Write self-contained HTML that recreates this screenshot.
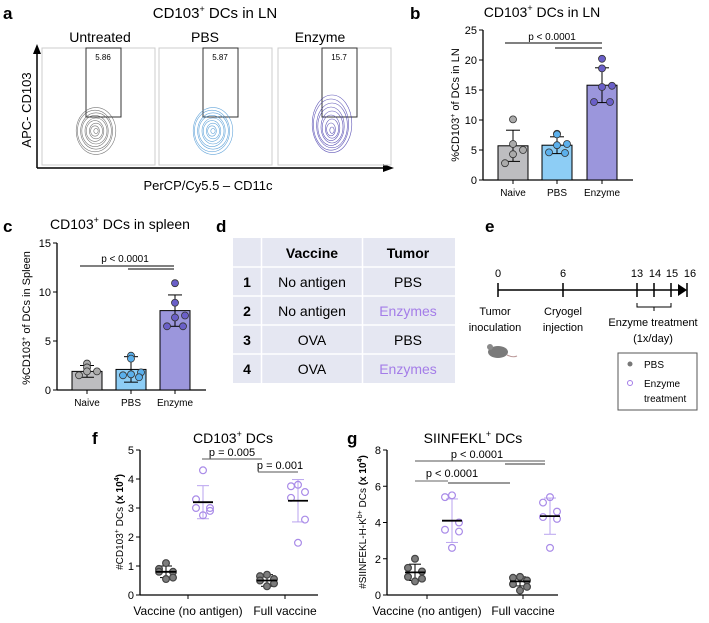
<!DOCTYPE html>
<html><head><meta charset="utf-8"><style>
body{margin:0;background:#fff;width:709px;height:618px;overflow:hidden}
svg{font-family:"Liberation Sans",Arial,sans-serif}
</style></head><body>
<svg id="fig" width="709" height="618" viewBox="0 0 709 618">
<!-- Panel a -->
<g>
<text x="3" y="19" font-size="17" font-weight="bold">a</text>
<text x="215" y="18" font-size="15" text-anchor="middle">CD103<tspan font-size="9" dy="-6">+</tspan><tspan dy="6"> DCs in LN</tspan></text>
<text x="100" y="42" font-size="14" text-anchor="middle">Untreated</text>
<text x="205" y="42" font-size="14" text-anchor="middle">PBS</text>
<text x="320" y="42" font-size="14" text-anchor="middle">Enzyme</text>
<line x1="37" y1="168" x2="37" y2="52" stroke="#000" stroke-width="1.5"/>
<polygon points="33,54 37,44 41,54" fill="#000"/>
<line x1="37" y1="168" x2="385" y2="168" stroke="#000" stroke-width="1.5"/>
<polygon points="383,164 394,168 383,172" fill="#000"/>
<text transform="translate(31,110) rotate(-90)" font-size="13" text-anchor="middle">APC- CD103</text>
<text x="208" y="190" font-size="13" text-anchor="middle">PerCP/Cy5.5 – CD11c</text>
<g id="flowplots"></g>
</g>
<!-- Panel b -->
<g>
<text x="410" y="19" font-size="17" font-weight="bold">b</text>
<text x="542" y="17" font-size="14" text-anchor="middle">CD103<tspan font-size="9" dy="-6">+</tspan><tspan dy="6"> DCs in LN</tspan></text>
<text transform="translate(459,105) rotate(-90)" font-size="11" text-anchor="middle">%CD103<tspan font-size="7" dy="-4">+</tspan><tspan dy="4"> of DCs in LN</tspan></text>
<g id="chartB"></g>
</g>
<!-- Panel c -->
<g>
<text x="3" y="232" font-size="17" font-weight="bold">c</text>
<text x="120" y="229" font-size="14" text-anchor="middle">CD103<tspan font-size="9" dy="-6">+</tspan><tspan dy="6"> DCs in spleen</tspan></text>
<text transform="translate(30,318) rotate(-90)" font-size="11" text-anchor="middle">%CD103<tspan font-size="7" dy="-4">+</tspan><tspan dy="4"> of DCs in Spleen</tspan></text>
<g id="chartC"></g>
</g>
<!-- Panel d -->
<g>
<text x="216" y="232" font-size="17" font-weight="bold">d</text>
<rect x="233" y="238" width="222" height="145" fill="#e5e7f2"/>
<g stroke="#fff" stroke-width="1.5">
<line x1="261.5" y1="238" x2="261.5" y2="383"/><line x1="362.5" y1="238" x2="362.5" y2="383"/>
<line x1="233" y1="267" x2="455" y2="267"/><line x1="233" y1="296" x2="455" y2="296"/>
<line x1="233" y1="325" x2="455" y2="325"/><line x1="233" y1="354" x2="455" y2="354"/>
</g>
<g font-size="14" text-anchor="middle">
<text x="312" y="258" font-weight="bold">Vaccine</text>
<text x="408" y="258" font-weight="bold">Tumor</text>
<text x="247" y="287" font-weight="bold">1</text><text x="312" y="287">No antigen</text><text x="408" y="287">PBS</text>
<text x="247" y="316" font-weight="bold">2</text><text x="312" y="316">No antigen</text><text x="408" y="316" fill="#a47de8">Enzymes</text>
<text x="247" y="345" font-weight="bold">3</text><text x="312" y="345">OVA</text><text x="408" y="345">PBS</text>
<text x="247" y="374" font-weight="bold">4</text><text x="312" y="374">OVA</text><text x="408" y="374" fill="#a47de8">Enzymes</text>
</g>
</g>
<!-- Panel e -->
<g>
<text x="485" y="232" font-size="17" font-weight="bold">e</text>
<g font-size="11" text-anchor="middle">
<text x="498" y="277">0</text><text x="563" y="277">6</text><text x="637" y="277">13</text><text x="655" y="277">14</text><text x="672" y="277">15</text><text x="690" y="277">16</text>
</g>
<g stroke="#000" stroke-width="1.5">
<line x1="498" y1="290" x2="680" y2="290"/>
<line x1="498" y1="283" x2="498" y2="297"/><line x1="563" y1="283" x2="563" y2="297"/>
<line x1="637" y1="283" x2="637" y2="297"/><line x1="654" y1="283" x2="654" y2="297"/>
<line x1="671" y1="283" x2="671" y2="297"/><line x1="687" y1="283" x2="687" y2="297"/>
<path d="M637,303 v4 h34 v-4 M654,307 v4" fill="none" stroke-width="1"/>
</g>
<polygon points="678,284 687,290 678,296" fill="#000"/>
<g font-size="11" text-anchor="middle">
<text x="495" y="315">Tumor</text><text x="495" y="331">inoculation</text>
<text x="563" y="315">Cryogel</text><text x="563" y="331">injection</text>
<text x="653" y="326">Enzyme treatment</text><text x="653" y="342">(1x/day)</text>
</g>
<g>
<ellipse cx="498" cy="352" rx="10" ry="6" fill="#7a7a7a"/>
<circle cx="490" cy="347" r="3" fill="#8a8a8a"/>
<path d="M507,355 q6,3 10,1" stroke="#b99" fill="none"/>
</g>
<rect x="618" y="353" width="79" height="57" fill="#fff" stroke="#555"/>
<circle cx="630" cy="364" r="2.5" fill="#777"/>
<text x="644" y="368" font-size="10">PBS</text>
<circle cx="630" cy="383" r="2.5" fill="none" stroke="#a47de8"/>
<text x="644" y="387" font-size="10">Enzyme</text>
<text x="644" y="402" font-size="10">treatment</text>
</g>
<!-- Panel f -->
<g>
<text x="92" y="444" font-size="17" font-weight="bold">f</text>
<text x="233" y="443" font-size="14" text-anchor="middle">CD103<tspan font-size="9" dy="-6">+</tspan><tspan dy="6"> DCs</tspan></text>
<text transform="translate(123,522) rotate(-90)" font-size="10" text-anchor="middle">#CD103<tspan font-size="7" dy="-4">+</tspan><tspan dy="4"> DCs </tspan><tspan font-weight="bold">(x 10<tspan font-size="7" dy="-4">4</tspan><tspan dy="4">)</tspan></tspan></text>
<g id="chartF"></g>
</g>
<!-- Panel g -->
<g>
<text x="347" y="444" font-size="17" font-weight="bold">g</text>
<text x="473" y="443" font-size="14" text-anchor="middle">SIINFEKL<tspan font-size="9" dy="-6">+</tspan><tspan dy="6"> DCs</tspan></text>
<text transform="translate(366,522) rotate(-90)" font-size="10" text-anchor="middle">#SIINFEKL-H-K<tspan font-size="7" dy="-4">b+</tspan><tspan dy="4"> DCs </tspan><tspan font-weight="bold">(x 10<tspan font-size="7" dy="-4">4</tspan><tspan dy="4">)</tspan></tspan></text>
<g id="chartG"></g>
</g>
</svg>
<script>
// ---- Panel b data ----
const bCats = ["Naive","PBS","Enzyme"];
const bMeans = [5.7, 5.8, 15.8];
const bSD = [2.6, 1.4, 2.9];
const bPts = [[10.1,6.0,5.0,4.3,2.8],[7.7,7.6,6.0,5.8,4.6,4.5],[20.2,18.6,15.7,15.5,13.0,13.0]];
const bTicks = [0,5,10,15,20,25];
// ---- Panel c data ----
const cCats = ["Naive","PBS","Enzyme"];
const cMeans = [1.9, 2.1, 8.1];
const cSD = [0.6, 1.3, 1.6];
const cPts = [[2.7,2.3,1.9,1.9,1.5],[3.5,3.2,1.8,1.6,1.5,1.3],[10.9,8.9,7.6,7.4,6.5,6.5]];
const cTicks = [0,5,10,15];
// ---- Panel f data ----
const fCats = ["Vaccine (no antigen)","Full vaccine"];
const fPBS = [[1.1,0.9,0.8,0.8,0.6,0.55],[0.7,0.65,0.55,0.5,0.4,0.3]];
const fEnz = [[4.3,3.3,3.0,3.0,2.9,2.75],[3.8,3.75,3.55,3.35,2.6,1.8]];
const fMeanPBS = [0.8,0.5], fSdPBS = [0.2,0.2];
const fMeanEnz = [3.2,3.25], fSdEnz = [0.57,0.73];
const fTicks = [0,1,2,3,4,5];
// ---- Panel g data ----
const gCats = ["Vaccine (no antigen)","Full vaccine"];
const gPBS = [[2.0,1.5,1.3,1.0,0.9,0.75],[1.0,0.95,0.8,0.6,0.45,0.25]];
const gEnz = [[5.5,5.4,4.0,3.6,3.5,2.6],[5.4,5.1,4.6,4.3,4.2,2.6]];
const gMeanPBS = [1.25,0.75], gSdPBS = [0.45,0.25];
const gMeanEnz = [4.1,4.35], gSdEnz = [1.2,1.0];
const gTicks = [0,2,4,6,8];
// ---- Panel a data ----
const aLabels = ["5.86","5.87","15.7"];
const aColors = ["#555","#3d8fd1","#3b2fa6"];

const NS="http://www.w3.org/2000/svg";
function mk(parent,tag,attrs){const e=document.createElementNS(NS,tag);for(const k in attrs)e.setAttribute(k,attrs[k]);parent.appendChild(e);return e;}
function txt(parent,x,y,s,size,anchor){const t=mk(parent,'text',{x:x,y:y,'font-size':size,'text-anchor':anchor||'middle'});t.textContent=s;return t;}

// flow plots
(function(){
 const g=document.getElementById('flowplots');
 const boxX=[42,159,278];
 aLabels.forEach((lab,i)=>{
  const x0=boxX[i];
  const b=mk(g,'rect',{x:x0,y:48,width:113,height:117,fill:'none',stroke:'#ccc'});
  
  
  mk(g,'rect',{x:x0+44,y:48,width:35,height:69,fill:'none',stroke:'#333'});
  txt(g,x0+61,60,lab,8);
  const cx=x0+53, cy=131;
  for(let k=1;k<=9;k++){
   mk(g,'ellipse',{cx:cx+(k%2),cy:cy-(i==2?k*0.8:0),rx:k*2.2,ry:k*2.6+(i==2?k*0.6:0),fill:'none',stroke:aColors[i],'stroke-width':0.6,opacity:0.8});
  }
 });
})();

function barChart(id,cats,means,sd,pts,ticks,geo,fills,strokes,prefix){
 const g=document.getElementById(id);
 const y=v=>geo.y0-(v/geo.max)*(geo.y0-geo.yTop);
 mk(g,'line',{x1:geo.x0,y1:geo.yTop,x2:geo.x0,y2:geo.y0,stroke:'#000','stroke-width':1.3});
 mk(g,'line',{x1:geo.x0,y1:geo.y0,x2:geo.xEnd,y2:geo.y0,stroke:'#000','stroke-width':1.3});
 ticks.forEach(t=>{mk(g,'line',{x1:geo.x0-4,y1:y(t),x2:geo.x0,y2:y(t),stroke:'#000'});txt(g,geo.x0-6,y(t)+4,String(t),11,'end');});
 cats.forEach((c,i)=>{
  const cx=geo.xs[i];
  const r=mk(g,'rect',{x:cx-15,y:y(means[i]),width:30,height:geo.y0-y(means[i]),fill:fills[i],stroke:'#000','stroke-width':1});
  
  
  mk(g,'line',{x1:cx,y1:y(means[i]-sd[i]),x2:cx,y2:y(means[i]+sd[i]),stroke:'#000'});
  mk(g,'line',{x1:cx-7,y1:y(means[i]-sd[i]),x2:cx+7,y2:y(means[i]-sd[i]),stroke:'#000'});
  mk(g,'line',{x1:cx-7,y1:y(means[i]+sd[i]),x2:cx+7,y2:y(means[i]+sd[i]),stroke:'#000'});
  pts[i].forEach((v,j)=>{
   const p=mk(g,'circle',{cx:cx+[0,0,10,0,-8,8][j%6],cy:y(v),r:3.5,fill:strokes[i],stroke:'#333','stroke-width':0.8});
   
   
  });
  mk(g,'line',{x1:cx,y1:geo.y0,x2:cx,y2:geo.y0+4,stroke:'#000'});
  txt(g,cx,geo.y0+16,c,10);
 });
}
barChart('chartB',bCats,bMeans,bSD,bPts,bTicks,{x0:483,y0:180,yTop:30,max:25,xEnd:633,xs:[513,557,602]},
 ['#bdbdc0','#8dcdf5','#9b96dc'],['#aaa','#5bb0ec','#6a5fc8'],'b');
barChart('chartC',cCats,cMeans,cSD,cPts,cTicks,{x0:57,y0:390,yTop:243,max:15,xEnd:206,xs:[87,131,175]},
 ['#bdbdc0','#8dcdf5','#9b96dc'],['#aaa','#5bb0ec','#6a5fc8'],'c');

(function(){
 const b=document.getElementById('chartB');
 mk(b,'line',{x1:505,y1:43,x2:602,y2:43,stroke:'#000'});
 mk(b,'line',{x1:555,y1:48,x2:602,y2:48,stroke:'#000'});
 txt(b,552,40,'p < 0.0001',10);
 const c=document.getElementById('chartC');
 mk(c,'line',{x1:80,y1:266,x2:174,y2:266,stroke:'#000'});
 mk(c,'line',{x1:128,y1:269,x2:174,y2:269,stroke:'#000'});
 txt(c,125,262,'p < 0.0001',10);
})();

function dotChart(id,cats,pbs,enz,mP,sP,mE,sE,ticks,geo,prefix){
 const g=document.getElementById(id);
 const y=v=>geo.y0-(v/geo.max)*(geo.y0-geo.yTop);
 mk(g,'line',{x1:geo.x0,y1:geo.yTop,x2:geo.x0,y2:geo.y0,stroke:'#000','stroke-width':1.3});
 mk(g,'line',{x1:geo.x0,y1:geo.y0,x2:geo.xEnd,y2:geo.y0,stroke:'#000','stroke-width':1.3});
 ticks.forEach(t=>{mk(g,'line',{x1:geo.x0-4,y1:y(t),x2:geo.x0,y2:y(t),stroke:'#000'});txt(g,geo.x0-6,y(t)+4,String(t),11,'end');});
 cats.forEach((c,i)=>{
  txt(g,geo.lx[i],geo.y0+20,c,12);
  mk(g,'line',{x1:geo.lx[i],y1:geo.y0,x2:geo.lx[i],y2:geo.y0+4,stroke:'#000'});
  [[pbs,mP,sP,geo.gx[i],'#7d7d7d','#444',true],[enz,mE,sE,geo.ex[i],'none','#a98be8',false]].forEach(([arr,m,s,cx,fill,st,isP])=>{
   const lc=isP?'#000':'#b9a3ef';
   mk(g,'line',{x1:cx,y1:y(m[i]-s[i]),x2:cx,y2:y(m[i]+s[i]),stroke:lc});
   mk(g,'line',{x1:cx-6,y1:y(m[i]-s[i]),x2:cx+6,y2:y(m[i]-s[i]),stroke:lc});
   mk(g,'line',{x1:cx-6,y1:y(m[i]+s[i]),x2:cx+6,y2:y(m[i]+s[i]),stroke:lc});
   arr[i].forEach((v,j)=>{
    const p=mk(g,'circle',{cx:cx+[0,-7,7,-7,7,0][j],cy:y(v),r:3.4,fill:fill,stroke:st,'stroke-width':1.2});
    
    
   });
   mk(g,'line',{x1:cx-10,y1:y(m[i]),x2:cx+10,y2:y(m[i]),stroke:'#000','stroke-width':1.8});
  });
 });
}
dotChart('chartF',fCats,fPBS,fEnz,fMeanPBS,fSdPBS,fMeanEnz,fSdEnz,fTicks,
 {x0:140,y0:595,yTop:450,max:5,xEnd:318,lx:[188,285],gx:[166,267],ex:[203,298]},'f');
dotChart('chartG',gCats,gPBS,gEnz,gMeanPBS,gSdPBS,gMeanEnz,gSdEnz,gTicks,
 {x0:387,y0:595,yTop:450,max:8,xEnd:558,lx:[427,523],gx:[415,520],ex:[452,550]},'g');

(function(){
 const f=document.getElementById('chartF');
 mk(f,'line',{x1:202,y1:459,x2:262,y2:459,stroke:'#777','stroke-width':1.3});
 txt(f,232,456,'p = 0.005',11);
 mk(f,'line',{x1:258,y1:472,x2:298,y2:472,stroke:'#777','stroke-width':1.3});
 txt(f,280,469,'p = 0.001',11);
 const g=document.getElementById('chartG');
 mk(g,'line',{x1:415,y1:461,x2:545,y2:461,stroke:'#777','stroke-width':1.2});
 mk(g,'line',{x1:505,y1:464,x2:545,y2:464,stroke:'#333'});
 txt(g,477,458,'p < 0.0001',11);
 mk(g,'line',{x1:415,y1:481,x2:448,y2:481,stroke:'#999','stroke-width':1.5});
 mk(g,'line',{x1:448,y1:483,x2:510,y2:483,stroke:'#333'});
 txt(g,452,477,'p < 0.0001',11);
})();
</script>
</body></html>
